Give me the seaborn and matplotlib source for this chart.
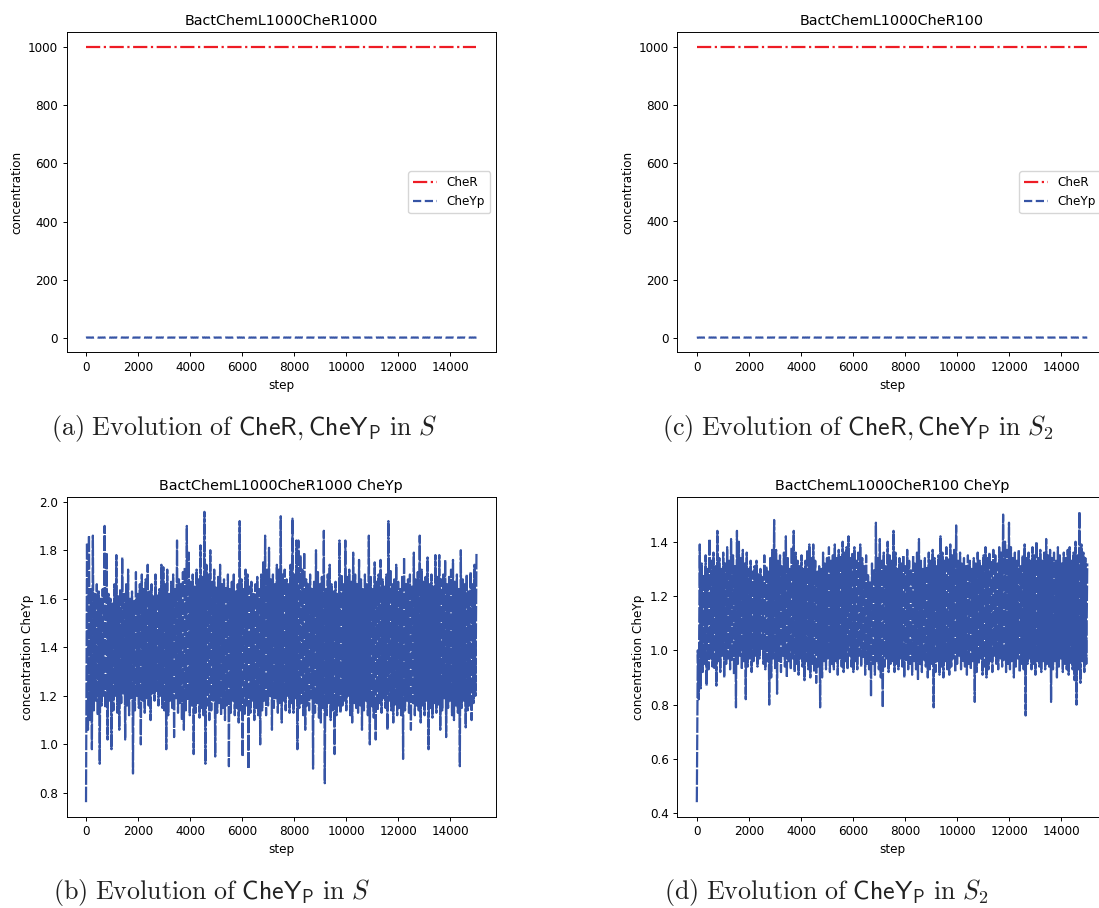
import numpy as np
import matplotlib
matplotlib.use("Agg")
import matplotlib.pyplot as plt
import seaborn as sns

# ---------------- data ----------------
titles_top = ["BactChemL1000CheR1000", "BactChemL1000CheR100"]
titles_bottom = ["BactChemL1000CheR1000 CheYp", "BactChemL1000CheR100 CheYp"]
captions = [
    r"$\mathrm{(a)\ Evolution\ of\ }\mathsf{CheR},\mathsf{CheY}_{\mathsf{P}}\mathrm{\ in\ }S$",
    r"$\mathrm{(c)\ Evolution\ of\ }\mathsf{CheR},\mathsf{CheY}_{\mathsf{P}}\mathrm{\ in\ }S_2$",
    r"$\mathrm{(b)\ Evolution\ of\ }\mathsf{CheY}_{\mathsf{P}}\mathrm{\ in\ }S$",
    r"$\mathrm{(d)\ Evolution\ of\ }\mathsf{CheY}_{\mathsf{P}}\mathrm{\ in\ }S_2$",
]
cher_level = [1000, 1000]
total_steps = 15000

# CheYp, L1000 CheR1000: local lows / highs read along the run
s1_low = [
    0.762, 1.06, 1.10, 0.98, 1.14, 1.18, 1.12, 0.92, 1.16, 1.20,
    1.15, 1.02, 1.18, 0.98, 1.14, 1.20, 1.13, 1.06, 1.17, 1.21,
    1.02, 1.16, 1.12, 1.19, 0.88, 1.14, 1.20, 1.15, 1.00, 1.18,
    1.13, 1.19, 1.16, 1.10, 1.21, 1.18, 1.22, 1.16, 1.20, 1.15,
    1.14, 0.98, 1.12, 1.18, 1.15, 1.03, 1.19, 1.13, 1.17, 1.10,
    1.06, 1.14, 1.18, 1.12, 1.16, 0.96, 1.13, 1.17, 1.11, 1.15,
    1.12, 0.92, 1.16, 1.10, 1.14, 1.18, 0.95, 1.13, 1.17, 1.12,
    1.15, 1.10, 1.16, 0.91, 1.13, 1.18, 1.12, 1.15, 1.09, 1.14,
    0.95, 1.12, 1.16, 0.90, 1.13, 1.18, 1.10, 1.15, 1.12, 1.00,
    1.14, 1.18, 1.12, 1.16, 1.20, 1.06, 1.15, 1.19, 1.13, 1.17,
    1.09, 1.18, 1.14, 1.20, 1.13, 1.17, 1.13, 1.19, 0.98, 1.15,
    1.17, 1.12, 1.06, 1.16, 1.14, 1.19, 0.90, 1.13, 1.17, 1.11,
    1.09, 1.15, 0.84, 1.12, 1.17, 1.10, 1.14, 0.96, 1.12, 1.16,
    1.13, 1.16, 1.18, 1.14, 1.20, 1.12, 1.09, 1.17, 1.15, 1.13,
    1.16, 1.06, 1.14, 1.18, 1.12, 1.00, 1.15, 1.11, 1.02, 1.14,
    1.17, 1.13, 1.19, 1.15, 1.06, 1.18, 1.14, 1.09, 1.16, 1.12,
    1.15, 1.12, 0.94, 1.14, 1.18, 1.13, 1.06, 1.17, 1.12, 1.16,
    1.14, 1.09, 1.16, 1.12, 1.18, 0.98, 1.15, 1.11, 1.17, 1.13,
    1.16, 1.06, 1.14, 1.19, 1.03, 1.15, 1.18, 1.12, 1.10, 1.16,
    1.13, 0.91, 1.15, 1.18, 1.07, 1.14, 1.16, 1.10, 1.17, 1.20,
]
s1_high = [
    1.83, 1.86, 1.64, 1.86, 1.62, 1.66, 1.63, 1.60, 1.64, 1.90,
    1.79, 1.62, 1.60, 1.58, 1.66, 1.78, 1.61, 1.64, 1.77, 1.62,
    1.66, 1.72, 1.60, 1.63, 1.59, 1.71, 1.62, 1.66, 1.70, 1.64,
    1.68, 1.74, 1.63, 1.66, 1.61, 1.70, 1.62, 1.64, 1.74, 1.73,
    1.66, 1.72, 1.62, 1.67, 1.70, 1.64, 1.84, 1.68, 1.66, 1.71,
    1.73, 1.90, 1.79, 1.67, 1.70, 1.65, 1.72, 1.68, 1.82, 1.69,
    1.958, 1.74, 1.70, 1.80, 1.67, 1.72, 1.65, 1.69, 1.74, 1.66,
    1.68, 1.65, 1.70, 1.64, 1.67, 1.70, 1.63, 1.66, 1.92, 1.68,
    1.64, 1.72, 1.70, 1.65, 1.67, 1.62, 1.66, 1.69, 1.64, 1.70,
    1.75, 1.86, 1.72, 1.81, 1.68, 1.70, 1.66, 1.74, 1.72, 1.94,
    1.70, 1.72, 1.68, 1.66, 1.74, 1.93, 1.70, 1.84, 1.84, 1.78,
    1.72, 1.79, 1.68, 1.66, 1.70, 1.64, 1.67, 1.80, 1.71, 1.66,
    1.69, 1.88, 1.64, 1.70, 1.74, 1.66, 1.63, 1.67, 1.62, 1.84,
    1.70, 1.66, 1.84, 1.69, 1.72, 1.67, 1.79, 1.70, 1.66, 1.76,
    1.68, 1.64, 1.70, 1.66, 1.86, 1.69, 1.64, 1.75, 1.67, 1.70,
    1.76, 1.68, 1.65, 1.70, 1.92, 1.72, 1.66, 1.68, 1.74, 1.67,
    1.64, 1.69, 1.77, 1.66, 1.68, 1.70, 1.65, 1.79, 1.68, 1.71,
    1.86, 1.72, 1.67, 1.69, 1.77, 1.66, 1.70, 1.65, 1.78, 1.69,
    1.78, 1.68, 1.70, 1.76, 1.66, 1.69, 1.72, 1.76, 1.67, 1.70,
    1.64, 1.80, 1.68, 1.66, 1.70, 1.63, 1.71, 1.66, 1.74, 1.79,
]

# CheYp, L1000 CheR100: local lows / highs read along the run
s2_low = [
    0.441, 0.82, 0.86, 0.92, 0.95, 0.87, 0.93, 0.97, 0.94, 0.93,
    0.87, 0.96, 0.92, 0.98, 0.90, 0.95, 0.97, 0.93, 0.96, 0.91,
    0.79, 0.95, 0.98, 0.93, 0.96, 0.82, 0.94, 0.97, 0.92, 0.96,
    0.98, 0.94, 0.97, 1.00, 0.95, 0.93, 0.96, 0.80, 0.90, 0.97,
    0.93, 0.84, 0.96, 0.92, 0.98, 0.94, 0.90, 0.96, 0.93, 0.97,
    0.92, 0.95, 0.91, 0.97, 0.94, 0.89, 0.96, 0.93, 0.90, 0.95,
    0.92, 0.88, 0.94, 0.79, 0.90, 0.96, 0.93, 0.97, 0.92, 0.95,
    0.93, 0.96, 0.91, 0.97, 0.94, 0.92, 0.96, 0.93, 0.98, 0.94,
    0.92, 0.96, 0.93, 0.98, 0.94, 0.97, 0.91, 0.95, 0.93, 0.83,
    0.95, 0.91, 0.96, 0.93, 0.90, 0.79, 0.94, 0.97, 0.92, 0.95,
    0.96, 0.92, 0.95, 0.93, 0.97, 0.94, 0.90, 0.96, 0.93, 0.95,
    0.91, 0.96, 0.93, 0.89, 0.95, 0.92, 0.96, 0.94, 0.90, 0.93,
    0.95, 0.79, 0.92, 0.96, 0.91, 0.94, 0.90, 0.96, 0.93, 0.91,
    0.94, 0.97, 0.92, 0.95, 0.98, 0.93, 0.96, 0.94, 0.91, 0.95,
    0.93, 0.96, 0.81, 0.92, 0.95, 0.97, 0.91, 0.94, 0.90, 0.93,
    0.96, 0.92, 0.98, 0.95, 0.93, 0.97, 0.94, 0.96, 0.92, 0.95,
    0.93, 0.96, 0.90, 0.94, 0.97, 0.92, 0.95, 0.93, 0.76, 0.95,
    0.97, 0.93, 0.95, 0.91, 0.96, 0.94, 0.92, 0.96, 0.93, 0.95,
    0.94, 0.81, 0.93, 0.96, 0.90, 0.94, 0.97, 0.92, 0.95, 0.93,
    0.91, 0.95, 0.93, 0.89, 0.80, 0.93, 0.88, 0.96, 0.92, 0.95,
]
s2_high = [
    1.00, 1.39, 1.32, 1.28, 1.35, 1.30, 1.41, 1.33, 1.36, 1.31,
    1.44, 1.34, 1.30, 1.36, 1.32, 1.38, 1.33, 1.41, 1.35, 1.31,
    1.44, 1.40, 1.34, 1.37, 1.32, 1.36, 1.30, 1.33, 1.29, 1.31,
    1.33, 1.28, 1.30, 1.27, 1.35, 1.31, 1.29, 1.34, 1.37, 1.48,
    1.37, 1.33, 1.35, 1.31, 1.36, 1.42, 1.34, 1.30, 1.38, 1.44,
    1.36, 1.33, 1.31, 1.35, 1.30, 1.33, 1.37, 1.39, 1.34, 1.39,
    1.33, 1.29, 1.31, 1.30, 1.36, 1.32, 1.34, 1.38, 1.33, 1.35,
    1.39, 1.34, 1.37, 1.35, 1.40, 1.36, 1.38, 1.42, 1.34, 1.36,
    1.38, 1.33, 1.36, 1.39, 1.34, 1.31, 1.35, 1.28, 1.25, 1.32,
    1.30, 1.47, 1.34, 1.41, 1.33, 1.36, 1.31, 1.40, 1.35, 1.33,
    1.44, 1.36, 1.30, 1.34, 1.32, 1.35, 1.31, 1.37, 1.33, 1.30,
    1.35, 1.32, 1.36, 1.41, 1.33, 1.30, 1.34, 1.31, 1.36, 1.33,
    1.37, 1.34, 1.31, 1.35, 1.42, 1.36, 1.33, 1.38, 1.34, 1.39,
    1.35, 1.37, 1.46, 1.33, 1.36, 1.32, 1.34, 1.31, 1.35, 1.33,
    1.30, 1.34, 1.32, 1.36, 1.33, 1.31, 1.35, 1.38, 1.34, 1.36,
    1.33, 1.37, 1.35, 1.32, 1.38, 1.36, 1.50, 1.40, 1.37, 1.47,
    1.38, 1.34, 1.36, 1.33, 1.37, 1.31, 1.35, 1.39, 1.34, 1.36,
    1.33, 1.38, 1.35, 1.40, 1.34, 1.37, 1.33, 1.36, 1.41, 1.35,
    1.37, 1.34, 1.36, 1.33, 1.38, 1.35, 1.32, 1.36, 1.34, 1.37,
    1.38, 1.33, 1.36, 1.40, 1.35, 1.51, 1.39, 1.36, 1.34, 1.32,
]

# ---------------- style ----------------
S = 0.866  # overall scale of the embedded matplotlib figures
plt.rcParams.update({
    "font.family": ["DejaVu Sans"],
    "mathtext.fontset": "cm",
    "font.size": 10 * S,
    "axes.titlesize": 12 * S,
    "axes.labelsize": 10 * S,
    "xtick.labelsize": 10 * S,
    "ytick.labelsize": 10 * S,
    "legend.fontsize": 10 * S,
    "axes.linewidth": 0.8 * S,
    "xtick.major.width": 0.8 * S,
    "ytick.major.width": 0.8 * S,
    "xtick.major.size": 3.5 * S,
    "ytick.major.size": 3.5 * S,
    "xtick.major.pad": 3.5 * S,
    "ytick.major.pad": 3.5 * S,
    "axes.titlepad": 6 * S,
    "axes.labelpad": 4 * S,
})

RED = "#ee1c25"
BLUE = "#3654a5"
LW = 1.6

W, H = 1099, 908
fig = plt.figure(figsize=(W / 100, H / 100), dpi=100)
fig.patch.set_facecolor("white")


def add_ax(left, top, width, height):
    return fig.add_axes([left / W, 1 - (top + height) / H, width / W, height / H])


def series(low, high):
    vals = np.empty(len(low) + len(high))
    vals[0::2] = low
    vals[1::2] = high
    steps = np.linspace(0, total_steps - 1, len(vals))
    return steps, vals


runs = [series(s1_low, s1_high), series(s2_low, s2_high)]

lefts = [66.5, 677.3]
for k in range(2):
    steps, cheyp = runs[k]
    # top: CheR and CheYp
    ax = add_ax(lefts[k], 32.3, 429.5, 320)
    sns.lineplot(x=steps, y=np.full(len(steps), cher_level[k]), ax=ax, color=RED,
                 linestyle="-.", linewidth=LW, label="CheR", estimator=None, sort=False)
    sns.lineplot(x=steps, y=cheyp, ax=ax, color=BLUE, linestyle="--",
                 linewidth=LW, label="CheYp", estimator=None, sort=False)
    ax.set_title(titles_top[k])
    ax.set_xlabel("step")
    ax.set_ylabel("concentration")
    ax.legend(loc="center right")

    # bottom: CheYp alone (dense dashed trace)
    ax = add_ax(lefts[k], 497.3, 429.5, 319.4)
    sns.lineplot(x=steps, y=cheyp, ax=ax, color=BLUE, dashes=False,
                 linewidth=LW, estimator=None, sort=False, legend=False)
    ax.lines[-1].set_dashes((7, 0.8))
    ax.set_title(titles_bottom[k])
    ax.set_xlabel("step")
    ax.set_ylabel("concentration CheYp")

# captions
cap_pos = [(51, 435), (662, 435), (53, 899), (664, 899)]
for txt, (cx, cy) in zip(captions, cap_pos):
    fig.text(cx / W, 1 - cy / H, txt, fontsize=18.7, ha="left", va="baseline",
             color="#222222")

fig.savefig("out.png", dpi=100)
